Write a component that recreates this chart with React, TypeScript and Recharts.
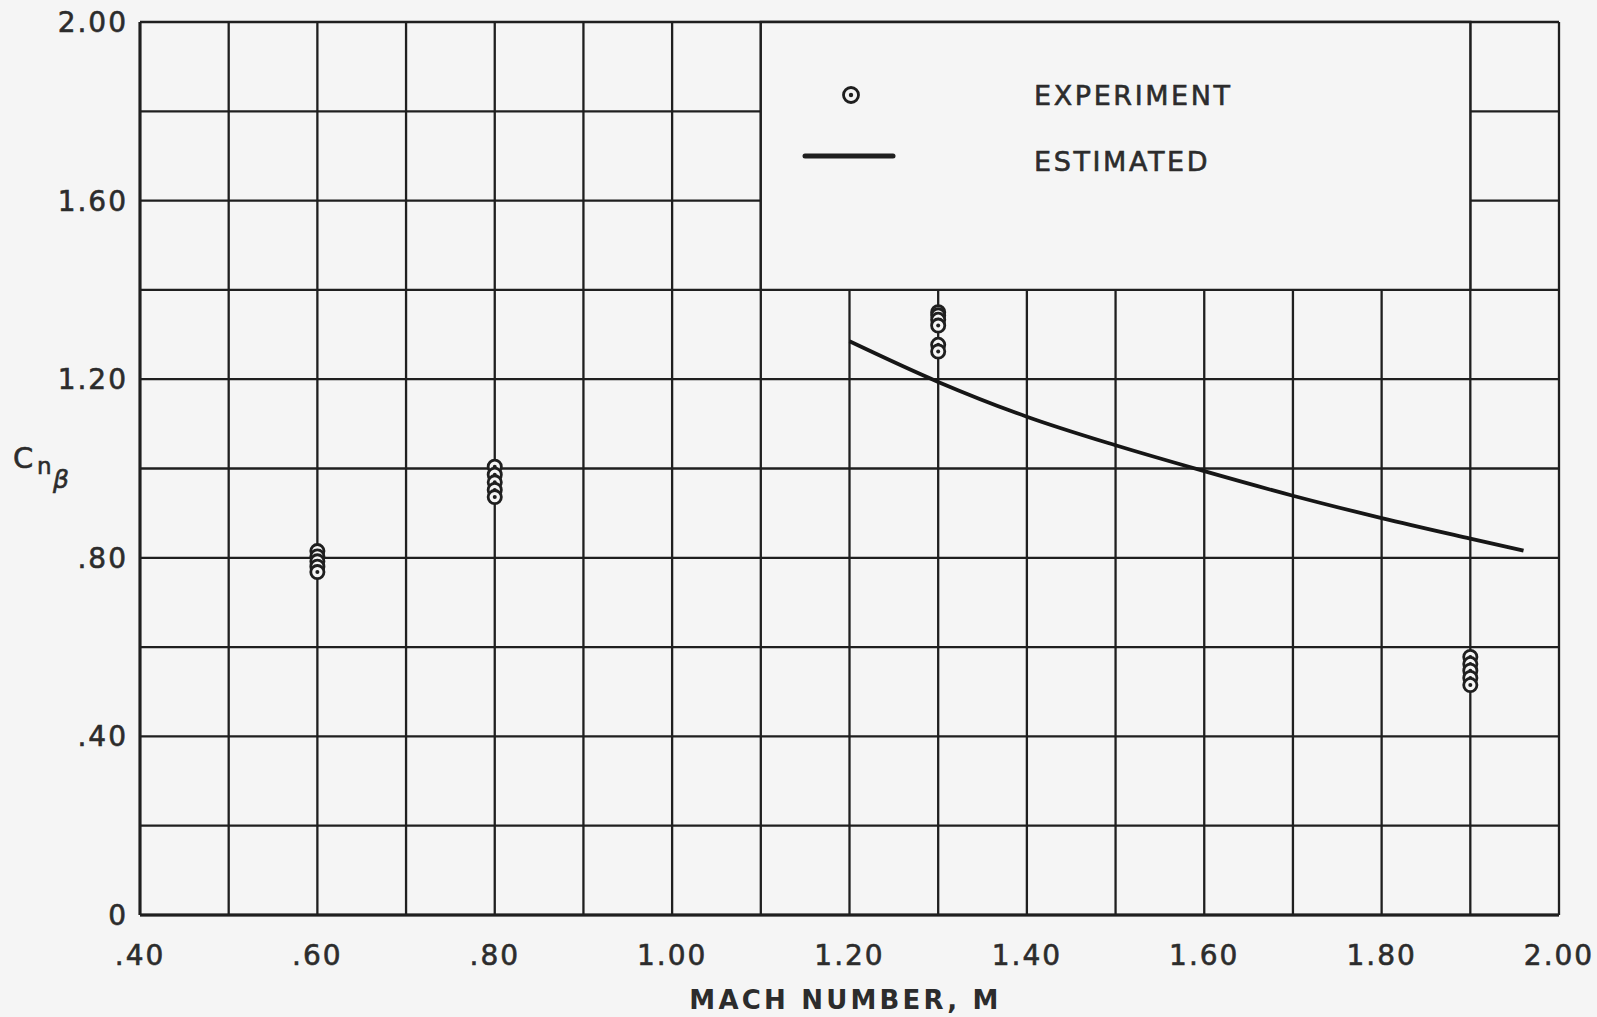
import React from 'react';
import {
  ComposedChart,
  Line,
  Scatter,
  XAxis,
  YAxis,
  CartesianGrid,
  ReferenceArea,
  Legend,
} from 'recharts';

// ---- data ----
const xTicks = [0.4, 0.5, 0.6, 0.7, 0.8, 0.9, 1.0, 1.1, 1.2, 1.3, 1.4, 1.5, 1.6, 1.7, 1.8, 1.9, 2.0];
const xTickLabels = ['.40', '', '.60', '', '.80', '', '1.00', '', '1.20', '', '1.40', '', '1.60', '', '1.80', '', '2.00'];
const yTicks = [0, 0.2, 0.4, 0.6, 0.8, 1.0, 1.2, 1.4, 1.6, 1.8, 2.0];
const yTickLabels = ['0', '', '.40', '', '.80', '', '1.20', '', '1.60', '', '2.00'];

const expMach = [
  0.6, 0.6, 0.6, 0.6, 0.6,
  0.8, 0.8, 0.8, 0.8, 0.8,
  1.3, 1.3, 1.3, 1.3, 1.3, 1.3,
  1.9, 1.9, 1.9, 1.9, 1.9,
];
const expCn = [
  0.815, 0.803, 0.792, 0.780, 0.768,
  1.004, 0.986, 0.969, 0.952, 0.936,
  1.350, 1.343, 1.333, 1.320, 1.277, 1.262,
  0.578, 0.562, 0.547, 0.531, 0.515,
];

const estMach = [1.2, 1.3, 1.4, 1.5, 1.6, 1.7, 1.8, 1.9, 1.96];
const estCn = [1.285, 1.194, 1.116, 1.052, 0.994, 0.939, 0.889, 0.843, 0.816];

const legendBoxMach = [1.1, 1.9];
const legendBoxCn = [1.4, 2.0];

const expData = expMach.map((m, i) => ({ m, cn: expCn[i] }));
const estData = estMach.map((m, i) => ({ m, cn: estCn[i] }));

// ---- style ----
const BG = '#f5f5f5';
const INK = '#1f1f1f';
const TEXT = '#2c2c2c';
const FONT = '"DejaVu Sans", "Liberation Sans", sans-serif';

const CircleDot = (props: any) => {
  const { cx, cy } = props;
  if (cx == null || cy == null) return null;
  return (
    <g>
      <circle cx={cx} cy={cy} r={6.6} fill={BG} stroke={INK} strokeWidth={2.8} />
      <circle cx={cx} cy={cy} r={2} fill={INK} />
    </g>
  );
};

const YLabel = (props: any) => {
  const vb = props.viewBox || { x: 0, y: 0, width: 140, height: 893 };
  const cy = vb.y + vb.height / 2;
  return (
    <text fill={TEXT} fontFamily={FONT} stroke={TEXT} strokeWidth={0.6}>
      <tspan x={vb.x + 13} y={cy - 1} fontSize={29}>C</tspan>
      <tspan x={vb.x + 37} y={cy + 5} fontSize={23}>n</tspan>
      <tspan x={vb.x + 53} y={cy + 19} fontSize={25} fontStyle="italic">β</tspan>
    </text>
  );
};

const XLabel = (props: any) => {
  const vb = props.viewBox || { x: 140, y: 915, width: 1419, height: 102 };
  return (
    <text
      x={vb.x + vb.width / 2 - 4}
      y={vb.y + 94}
      textAnchor="middle"
      fontFamily={FONT}
      fontWeight="bold"
      fontSize={26}
      letterSpacing={3.2}
      fill={TEXT}
    >
      MACH NUMBER, M
    </text>
  );
};

const LegendContent = (props: any) => {
  const payload: any[] = props.payload || [];
  const exp = payload.find((p) => p.value === 'EXPERIMENT');
  const est = payload.find((p) => p.value === 'ESTIMATED');
  return (
    <svg width={480} height={130} style={{ display: 'block', overflow: 'visible' }}>
      {exp && (
        <g>
          <circle cx={71} cy={35} r={7.5} fill={BG} stroke={INK} strokeWidth={2.8} />
          <circle cx={71} cy={35} r={2.2} fill={INK} />
          <text x={254} y={45} fontFamily={FONT} fontSize={27} letterSpacing={2.6} fill={TEXT} stroke={TEXT} strokeWidth={0.6}>
            {exp.value}
          </text>
        </g>
      )}
      {est && (
        <g>
          <line x1={25} y1={96} x2={113} y2={96} stroke={INK} strokeWidth={5} strokeLinecap="round" />
          <text x={254} y={111} fontFamily={FONT} fontSize={27} letterSpacing={2.6} fill={TEXT} stroke={TEXT} strokeWidth={0.6}>
            {est.value}
          </text>
        </g>
      )}
    </svg>
  );
};

const tickStyle = { fill: TEXT, fontSize: 28, fontFamily: FONT, letterSpacing: 2, stroke: TEXT, strokeWidth: 0.6 };

export default function App() {
  return (
    <div style={{ position: 'absolute', left: 0, top: 0, width: 1597, height: 1017, background: BG }}>
      <ComposedChart
        width={1597}
        height={1017}
        margin={{ top: 22, right: 38, bottom: 0, left: 0 }}
      >
        <CartesianGrid stroke={INK} strokeWidth={2.3} fill={BG} />
        <XAxis
          type="number"
          dataKey="m"
          domain={[0.4, 2.0]}
          ticks={xTicks}
          interval={0}
          tickFormatter={(v: number, i: number) => xTickLabels[i] ?? ''}
          allowDataOverflow
          height={102}
          tickLine={false}
          tickSize={0}
          tickMargin={30}
          axisLine={{ stroke: INK, strokeWidth: 3 }}
          tick={tickStyle}
          label={{ content: <XLabel /> }}
        />
        <YAxis
          type="number"
          dataKey="cn"
          domain={[0, 2.0]}
          ticks={yTicks}
          interval={0}
          tickFormatter={(v: number, i: number) => yTickLabels[i] ?? ''}
          allowDataOverflow
          width={140}
          tickLine={false}
          tickSize={0}
          tickMargin={12}
          axisLine={{ stroke: INK, strokeWidth: 3 }}
          tick={tickStyle}
          label={{ content: <YLabel /> }}
        />
        <ReferenceArea
          x1={legendBoxMach[0]}
          x2={legendBoxMach[1]}
          y1={legendBoxCn[0]}
          y2={legendBoxCn[1]}
          fill={BG}
          fillOpacity={1}
          stroke={INK}
          strokeWidth={2.3}
        />
        <Line
          data={estData}
          dataKey="cn"
          name="ESTIMATED"
          type="monotone"
          stroke="#161616"
          strokeWidth={3.8}
          dot={false}
          activeDot={false}
          isAnimationActive={false}
          legendType="line"
        />
        <Scatter
          data={expData}
          dataKey="cn"
          name="EXPERIMENT"
          fill={INK}
          shape={<CircleDot />}
          isAnimationActive={false}
          legendType="circle"
        />
        <Legend
          layout="vertical"
          align="center"
          verticalAlign="middle"
          content={<LegendContent />}
          wrapperStyle={{ left: 780, top: 60, width: 480, height: 130 }}
        />
      </ComposedChart>
    </div>
  );
}
